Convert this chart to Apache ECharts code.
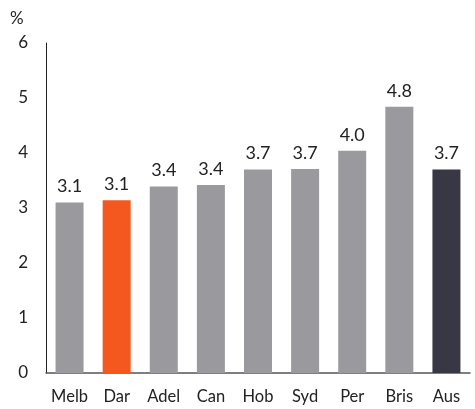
<!DOCTYPE html>
<html>
<head>
<meta charset="utf-8">
<script src="https://cdn.jsdelivr.net/npm/echarts@6/dist/echarts.min.js"></script>
<style>
  html, body { margin: 0; padding: 0; background: #fff; }
  #chart { width: 475px; height: 409px; }
</style>
</head>
<body>
<div id="chart"></div>
<script>
// city categories and values (%)
const cities = ["Melb", "Dar", "Adel", "Can", "Hob", "Syd", "Per", "Bris", "Aus"];
const values = [3.10, 3.14, 3.39, 3.42, 3.70, 3.71, 4.04, 4.84, 3.70];
const barColors = ["#9a9a9e", "#f4581f", "#9a9a9e", "#9a9a9e", "#9a9a9e", "#9a9a9e", "#9a9a9e", "#9a9a9e", "#373843"];
const yTicks = [0, 1, 2, 3, 4, 5, 6];

const chart = echarts.init(document.getElementById("chart"));
chart.setOption({
  animation: false,
  textStyle: { fontFamily: "Lato" },
  grid: { left: 46, right: 5, top: 43, bottom: 36 },
  graphic: [
    {
      type: "text",
      left: 10,
      top: 10,
      style: { text: "%", font: "17px Lato", fill: "#222" }
    }
  ],
  xAxis: {
    type: "category",
    data: cities,
    axisTick: { show: false },
    axisLine: { lineStyle: { color: "#555", width: 1.5 } },
    axisLabel: { color: "#222", fontSize: 16.5, margin: 15, interval: 0, hideOverlap: false }
  },
  yAxis: {
    type: "value",
    min: yTicks[0],
    max: yTicks[yTicks.length - 1],
    interval: 1,
    splitLine: { show: false },
    axisTick: { show: false },
    axisLine: { show: true, lineStyle: { color: "#222", width: 1 } },
    axisLabel: { color: "#222", fontSize: 17, margin: 18 }
  },
  series: [
    {
      type: "bar",
      barWidth: 28,
      data: values.map((v, i) => ({ value: v, itemStyle: { color: barColors[i] } })),
      label: {
        show: true,
        position: "top",
        distance: 7,
        color: "#222",
        fontSize: 18,
        formatter: (p) => p.value.toFixed(1)
      }
    }
  ]
});
</script>
</body>
</html>
